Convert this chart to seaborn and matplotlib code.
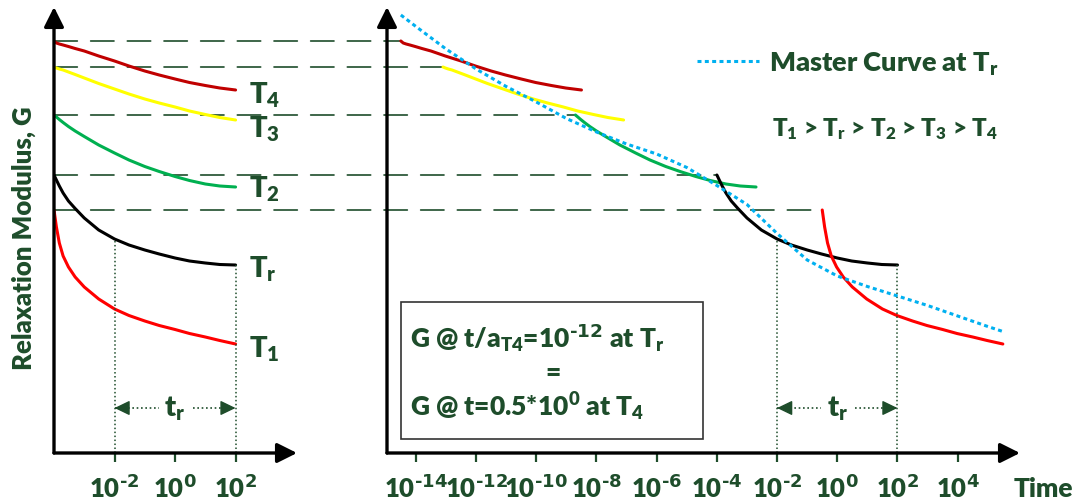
import numpy as np
import pandas as pd
import seaborn as sns
import matplotlib
matplotlib.use("Agg")
import matplotlib.pyplot as plt
from matplotlib.patches import ConnectionPatch, Rectangle
from matplotlib.lines import Line2D
from matplotlib.ticker import NullLocator

sns.set_theme(style="white")
plt.rcParams["font.family"] = ["Lato", "DejaVu Sans"]
plt.rcParams["font.weight"] = "heavy"
plt.rcParams["mathtext.default"] = "regular"

TEXT = "#1E4D2B"
WEIGHT = "heavy"

# Test times (s) of the isothermal relaxation tests
time = [1e-4, 1.2e-4, 1.5e-4, 2e-4, 3e-4, 5e-4, 1e-3, 3e-3, 1e-2, 3e-2,
        1e-1, 3e-1, 1, 3, 10, 30, 100]

# Relaxation modulus (arbitrary units) measured at each temperature
G_T4 = [412, 410, 409, 408, 406.5, 404.5, 402, 397, 392, 387, 382, 378, 374, 370.5, 367.5, 365, 363]
G_T3 = [386, 385, 384, 383, 381, 378.5, 375, 369.5, 364, 359, 354, 350, 346, 342, 338.5, 335.5, 333]
G_T2 = [338, 336, 333.5, 330.5, 326.5, 322, 316.5, 308, 300, 293, 286.5, 281.5, 276.5, 272.5, 269, 267, 266]
G_Tr = [278, 273, 267, 260, 252, 244.5, 235, 223, 214, 208, 203, 199, 195, 192, 190, 188.5, 188]
G_T1 = [243, 226, 210, 197, 186, 176, 166, 154, 144, 137.5, 132, 127.5, 123.5, 119.5, 116, 112.5, 109]

temperatures = ["T4", "T3", "T2", "Tr", "T1"]
colors = ["#C00000", "#FFFF00", "#00B050", "#000000", "#FF0000"]
# log10 of the horizontal shift factor a_T of each temperature
log_aT = [10.5, 9.1, 4.7, 0.0, -3.5]

# Master curve at the reference temperature Tr
master_log_t = [-14.5, -14, -13, -12, -11, -10, -9, -8, -7, -6, -5, -4, -3, -2,
                -1, 0, 1, 2, 3, 4, 5, 5.5]
master_G = [438, 426.5, 404, 384, 366.5, 351, 334.5, 321, 309, 299, 285.5, 267.5,
            248.5, 219.5, 193, 177, 166.5, 157, 147.5, 137, 126.5, 121.5]

left_ticks = [1e-2, 1e0, 1e2]
right_ticks = [1e-14, 1e-12, 1e-10, 1e-8, 1e-6, 1e-4, 1e-2, 1e0, 1e2, 1e4]

# ---- tidy table -----------------------------------------------------------
series = dict(zip(temperatures, [G_T4, G_T3, G_T2, G_Tr, G_T1]))
frames = []
for name, shift in zip(temperatures, log_aT):
    frames.append(pd.DataFrame({
        "time": time,
        "G": series[name],
        "temperature": name,
        "reduced_time": np.array(time) / 10.0 ** shift,
    }))
df = pd.concat(frames, ignore_index=True)
palette = dict(zip(temperatures, colors))
master = pd.DataFrame({"time": 10.0 ** np.array(master_log_t), "G": master_G})

# ---- figure ---------------------------------------------------------------
W, H = 1077, 502
fig = plt.figure(figsize=(W / 100, H / 100), dpi=100)


def fx(px):
    return px / W


def fy(py):
    return 1 - py / H


def power_label(t):
    return "10$^{\\text{%d}}$" % int(round(np.log10(t)))


ax1 = fig.add_axes([fx(54), fy(454), fx(243), 446 / H])
ax2 = fig.add_axes([fx(387), fy(454), fx(633), 446 / H])

ax1.set_xscale("log")
ax2.set_xscale("log")
ax1.set_xlim(1e-4, 10 ** 4.03)
ax2.set_xlim(10 ** -14.96, 10 ** 6.07)
for ax in (ax1, ax2):
    ax.set_ylim(0, 446)
    ax.patch.set_visible(False)
    for s in ax.spines.values():
        s.set_visible(False)

line_w = 2.2
sns.lineplot(data=df, x="time", y="G", hue="temperature", palette=palette,
             estimator=None, sort=False, lw=line_w, legend=False, ax=ax1)
sns.lineplot(data=df, x="reduced_time", y="G", hue="temperature", palette=palette,
             estimator=None, sort=False, lw=line_w, legend=False, ax=ax2)
dot_style = (0, (1.3, 1.1))
sns.lineplot(data=master, x="time", y="G", color="#00B0F0", lw=2.2,
             linestyle=dot_style, estimator=None, sort=False, ax=ax2, zorder=5)

# ---- axes with arrowheads -------------------------------------------------
for ax in (ax1, ax2):
    for end in [(1, 0), (0, 1)]:
        ax.annotate("", xy=end, xytext=(0, 0), xycoords="axes fraction",
                    textcoords="axes fraction", annotation_clip=False,
                    arrowprops=dict(arrowstyle="-|>,head_length=0.6,head_width=0.3",
                                    lw=2.4, color="black", shrinkA=0, shrinkB=0,
                                    mutation_scale=20))
    ax.set_xlabel("")
    ax.set_ylabel("")
    ax.set_yticks([])
    ax.xaxis.set_minor_locator(NullLocator())
    ax.tick_params(axis="x", which="major", bottom=True, direction="out",
                   length=6.5, width=1.6, color=TEXT, labelsize=18.5,
                   labelcolor=TEXT, pad=8)

ax1.set_xticks(left_ticks)
ax1.set_xticklabels([power_label(t) for t in left_ticks])
ax2.set_xticks(right_ticks)
ax2.set_xticklabels([power_label(t) for t in right_ticks])
for ax in (ax1, ax2):
    for lab in ax.get_xticklabels():
        lab.set_fontweight(WEIGHT)

# ---- horizontal guides from each starting modulus ---------------------------
for name, shift in zip(temperatures, log_aT):
    g0 = series[name][0]
    con = ConnectionPatch(xyA=(time[0], g0), coordsA=ax1.transData,
                          xyB=(time[0] / 10.0 ** shift, g0), coordsB=ax2.transData,
                          color=TEXT, lw=1.2, linestyle=(0, (14, 8)), zorder=-1)
    fig.add_artist(con)

# ---- t_r window markers -----------------------------------------------------
tr_lookup = dict(zip(time, G_Tr))
window = [1e-2, 1e2]
arrow_G = 45
for ax in (ax1, ax2):
    ax.vlines(window, 0, [tr_lookup[t] for t in window], colors=TEXT,
              linestyles=(0, (1, 1.6)), lw=1.1)
    ax.plot(window, [arrow_G, arrow_G], color=TEXT, lw=1.2, ls=(0, (1, 1.6)))
    for tip, back in [(window[0], window[0] * 10 ** 0.45), (window[1], window[1] / 10 ** 0.45)]:
        ax.annotate("", xy=(tip, arrow_G), xytext=(back, arrow_G),
                    arrowprops=dict(arrowstyle="-|>,head_length=0.62,head_width=0.3",
                                    mutation_scale=15, color=TEXT, lw=1,
                                    shrinkA=0, shrinkB=0))
    ax.text(1.0, arrow_G, "t$_r$", ha="center", va="center", fontsize=21,
            color=TEXT, fontweight=WEIGHT,
            bbox=dict(facecolor="white", edgecolor="none", pad=4))

# ---- temperature labels on the left panel -------------------------------------
label_text = {"T4": "T$_4$", "T3": "T$_3$", "T2": "T$_2$", "Tr": "T$_r$", "T1": "T$_1$"}
label_base = {"T4": 103, "T3": 137, "T2": 198, "Tr": 278, "T1": 357}
for name in temperatures:
    fig.text(fx(249), fy(label_base[name]), label_text[name], ha="left",
             va="baseline", fontsize=21, color=TEXT, fontweight=WEIGHT)

# ---- annotations --------------------------------------------------------------
fig.text(fx(24), fy(238), "Relaxation Modulus, G", rotation=90, ha="center",
         va="center", fontsize=18.5, color=TEXT, fontweight=WEIGHT)
fig.text(fx(1014), fy(497), "Time", ha="left", va="baseline", fontsize=19,
         color=TEXT, fontweight=WEIGHT)

leg_handle = Line2D([], [], color="#00B0F0", lw=2.2, linestyle=dot_style)
ax2.legend([leg_handle], ["Master Curve at T$_r$"], loc="center left",
           bbox_to_anchor=(fx(697), fy(64)), bbox_transform=fig.transFigure,
           frameon=False, borderaxespad=0, borderpad=0, handlelength=2.3,
           handletextpad=0.35, labelcolor=TEXT,
           prop=dict(size=19.5, weight=WEIGHT))
fig.text(fx(772), fy(136), "T$_1$ > T$_r$ > T$_2$ > T$_3$ > T$_4$", ha="left",
         va="baseline", fontsize=17.5, color=TEXT, fontweight=WEIGHT)

fig.add_artist(Rectangle((fx(401), fy(440)), fx(302), 137 / H,
                         transform=fig.transFigure, fill=False,
                         edgecolor="#333333", lw=1.2))
fig.text(fx(410), fy(348), "G @ t/a$_{T4}$=10$^{\\text{-12}}$ at T$_r$", ha="left",
         va="baseline", fontsize=19, color=TEXT, fontweight=WEIGHT)
fig.text(fx(553), fy(381), "=", ha="center", va="baseline", fontsize=19,
         color=TEXT, fontweight=WEIGHT)
fig.text(fx(410), fy(416), "G @ t=0.5*10$^{0}$ at T$_4$", ha="left",
         va="baseline", fontsize=19, color=TEXT, fontweight=WEIGHT)

fig.savefig("out.png", dpi=100)
